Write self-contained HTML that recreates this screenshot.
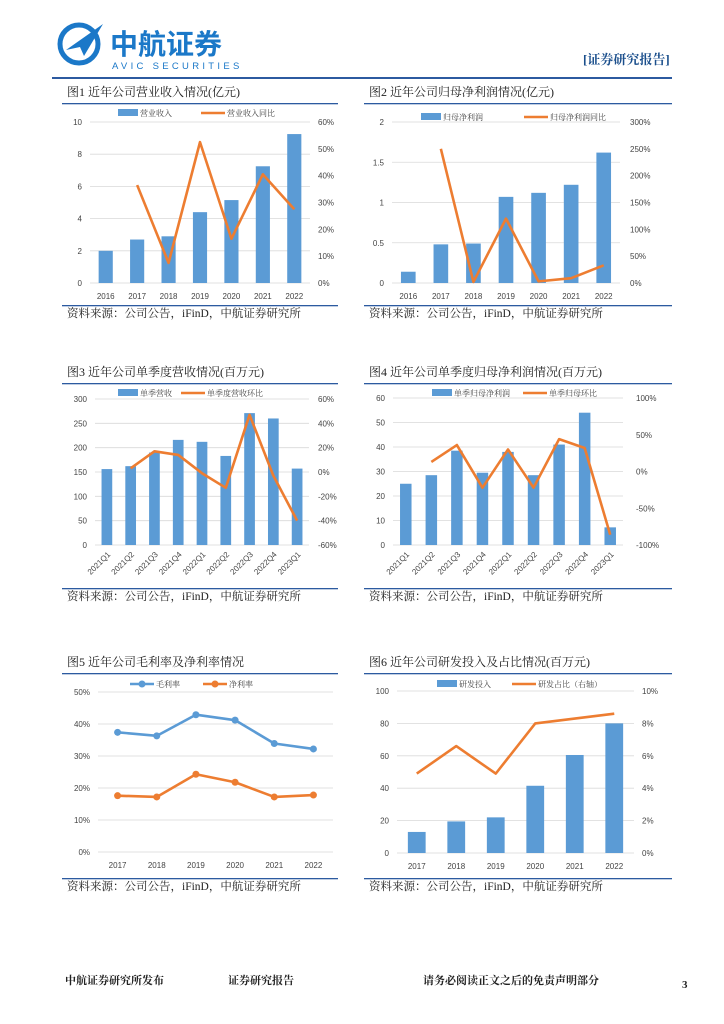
<!DOCTYPE html>
<html><head><meta charset="utf-8"><style>
body{margin:0;background:#fff;}
svg{display:block;font-family:"Liberation Sans","Noto Sans CJK SC",sans-serif;}
.cn{font-family:"Liberation Serif","Noto Serif CJK SC",serif;}
</style></head><body>
<svg id="pg" width="724" height="1024" viewBox="0 0 724 1024">
<g>
<circle cx="79" cy="44" r="19" fill="none" stroke="#1b78c8" stroke-width="5"/>
<path d="M66 50 L103 24 L84 56 L80 47 Z" fill="#1b78c8"/>
<text x="110" y="54" font-size="28" font-weight="bold" fill="#1b78c8" font-family="Noto Sans CJK SC,sans-serif">中航证券</text>
<text x="112" y="69" font-size="9.5" fill="#1b78c8" letter-spacing="3.3">AVIC SECURITIES</text>
<text x="583" y="64" font-size="13" font-weight="bold" fill="#1b4f8c" class="cn">[证券研究报告]</text>
<rect x="52" y="77" width="620" height="2" fill="#2c5aa0"/>
</g>
<g id="charts"></g>
<g class="cn" font-size="11" font-weight="bold" fill="#222">
<text x="65" y="984">中航证券研究所发布</text>
<text x="228" y="984">证券研究报告</text>
<text x="423" y="984">请务必阅读正文之后的免责声明部分</text>
<text x="682" y="988" font-family="Liberation Serif,serif">3</text>
</g>
</svg>
<script>
// Chart 1
const c1Cats=["2016","2017","2018","2019","2020","2021","2022"];
const c1Bars=[2.0,2.7,2.9,4.4,5.15,7.25,9.25];
const c1Line=[null,36.5,7.5,52.5,16.5,40.5,27.5];
const c1LeftTicks=[0,2,4,6,8,10];
const c1RightTicks=[0,10,20,30,40,50,60];
// Chart 2
const c2Cats=["2016","2017","2018","2019","2020","2021","2022"];
const c2Bars=[0.14,0.48,0.49,1.07,1.12,1.22,1.62];
const c2Line=[null,250,2,120,3,9,33];
const c2LeftTicks=[0,0.5,1,1.5,2];
const c2RightTicks=[0,50,100,150,200,250,300];
// Chart 3
const c3Cats=["2021Q1","2021Q2","2021Q3","2021Q4","2022Q1","2022Q2","2022Q3","2022Q4","2023Q1"];
const c3Bars=[156,162,190,216,212,183,271,260,157];
const c3Line=[null,3,17,14,-1,-13,47,-3,-40];
const c3LeftTicks=[0,50,100,150,200,250,300];
const c3RightTicks=[-60,-40,-20,0,20,40,60];
// Chart 4
const c4Cats=["2021Q1","2021Q2","2021Q3","2021Q4","2022Q1","2022Q2","2022Q3","2022Q4","2023Q1"];
const c4Bars=[25,28.5,38.5,29.5,38,28.5,41,54,7.2];
const c4Line=[null,13,36,-22,30,-22,44,32,-86];
const c4LeftTicks=[0,10,20,30,40,50,60];
const c4RightTicks=[-100,-50,0,50,100];
// Chart 5
const c5Cats=["2017","2018","2019","2020","2021","2022"];
const c5Gross=[37.4,36.3,42.9,41.2,33.9,32.2];
const c5Net=[17.6,17.2,24.3,21.8,17.2,17.8];
const c5Ticks=[0,10,20,30,40,50];
// Chart 6
const c6Cats=["2017","2018","2019","2020","2021","2022"];
const c6Bars=[13,19.5,22,41.5,60.5,80];
const c6Line=[4.9,6.6,4.9,8.0,8.3,8.6];
const c6LeftTicks=[0,20,40,60,80,100];
const c6RightTicks=[0,2,4,6,8,10];

const NS="http://www.w3.org/2000/svg";
const root=document.getElementById('charts');
function mk(tag,attrs,parent,txt){const e=document.createElementNS(NS,tag);for(const k in attrs)e.setAttribute(k,attrs[k]);if(txt!=null)e.textContent=txt;parent.appendChild(e);return e;}
const BLUE="#5b9bd5",ORANGE="#ed7d31";

function chart(o){
  const g=mk('g',{},root);
  
  
  const t=mk('text',{x:o.fx+5,y:o.ty,'font-size':12,fill:'#222',class:'cn'},g,o.title);
  
  
  const r1=mk('rect',{x:o.fx,y:o.ty+7,width:o.fw,height:1.3,fill:'#2c5aa0'},g);
  
  
  const r2=mk('rect',{x:o.fx,y:o.sy-12,width:o.fw,height:1.3,fill:'#2c5aa0'},g);
  
  
  const s=mk('text',{x:o.fx+5,y:o.sy,'font-size':11.5,fill:'#222',class:'cn'},g,'资料来源：公司公告，iFinD，中航证券研究所');
  
  
  const n=o.cats.length, bw=(o.x1-o.x0)/n;
  const xc=i=>o.x0+bw*(i+0.5);
  const yL=v=>o.yb-(v-o.lt[0])/(o.lt[o.lt.length-1]-o.lt[0])*(o.yb-o.yt);
  const yR=o.rt?(v=>o.yb-(v-o.rt[0])/(o.rt[o.rt.length-1]-o.rt[0])*(o.yb-o.yt)):yL;
  o.lt.forEach(v=>{const y=yL(v);
    const l=mk('line',{x1:o.x0,x2:o.x1,y1:y,y2:y,stroke:'#d9d9d9','stroke-width':0.8},g);
    
    
    const tx=mk('text',{x:o.x0-8,y:y+3,'font-size':8,'text-anchor':'end',fill:'#444'},g,o.lfmt?o.lfmt(v):v);
    
    });
  if(o.rt)o.rt.forEach(v=>{const tx=mk('text',{x:o.rx,y:yR(v)+3,'font-size':8,fill:'#444'},g,v+'%');
    
    });
  o.cats.forEach((c,i)=>{let tx;
    if(o.rot){tx=mk('text',{x:xc(i)+4,y:o.yb+10,'font-size':8,'text-anchor':'end',fill:'#444',transform:`rotate(-45 ${xc(i)+4} ${o.yb+10})`},g,c);}
    else tx=mk('text',{x:xc(i),y:o.yb+16,'font-size':8,'text-anchor':'middle',fill:'#444'},g,c);
    
    });
  if(o.bars)o.bars.forEach((v,i)=>{const w=bw*0.45;
    const b=mk('rect',{x:xc(i)-w/2,y:yL(v),width:w,height:yL(o.lt[0])-yL(v),fill:BLUE},g);
    
    });
  (o.lines||[]).forEach(L=>{const pts=[];L.vals.forEach((v,i)=>{if(v!=null)pts.push([xc(i),(L.left?yL:yR)(v)]);});
    const p=mk('polyline',{points:pts.map(p=>p.join(',')).join(' '),fill:'none',stroke:L.color,'stroke-width':2.6,'stroke-linejoin':'round'},g);
    
    
    if(L.markers)pts.forEach(q=>{const c=mk('circle',{cx:q[0],cy:q[1],r:3.5,fill:L.color},g);
      
      });});
  o.legend.forEach(L=>{let sw;
    if(L.type==='bar')sw=mk('rect',{x:L.x,y:o.ly-4,width:20,height:7,fill:BLUE},g);
    else sw=mk('line',{x1:L.x,x2:L.x+24,y1:o.ly,y2:o.ly,stroke:L.color,'stroke-width':2.6},g);
    
    
    if(L.marker){const c=mk('circle',{cx:L.x+12,cy:o.ly,r:3.5,fill:L.color},g);
      
      }
    const tx=mk('text',{x:L.x+(L.type==='bar'?22:26),y:o.ly+3,'font-size':8,fill:'#444',class:'cn'},g,L.label);
    
    });
}
chart({name:'chart-revenue',title:'图1  近年公司营业收入情况(亿元)',fx:62,fw:276,ty:96,sy:317,cats:c1Cats,bars:c1Bars,lt:c1LeftTicks,rt:c1RightTicks,x0:90,x1:310,yt:122,yb:283,rx:318,
  lines:[{vals:c1Line,color:ORANGE,name:'yoy-line'}],ly:113,legend:[{type:'bar',x:118,label:'营业收入'},{type:'line',x:201,color:ORANGE,label:'营业收入同比'}]});
chart({name:'chart-net-profit',title:'图2  近年公司归母净利润情况(亿元)',fx:364,fw:308,ty:96,sy:317,cats:c2Cats,bars:c2Bars,lt:c2LeftTicks,rt:c2RightTicks,x0:392,x1:620,yt:122,yb:283,rx:630,
  lines:[{vals:c2Line,color:ORANGE,name:'yoy-line'}],ly:117,legend:[{type:'bar',x:421,label:'归母净利润'},{type:'line',x:524,color:ORANGE,label:'归母净利润同比'}]});
chart({name:'chart-quarterly-revenue',title:'图3  近年公司单季度营收情况(百万元)',fx:62,fw:276,ty:376,sy:600,cats:c3Cats,bars:c3Bars,lt:c3LeftTicks,rt:c3RightTicks,x0:95,x1:309,yt:399,yb:545,rx:318,rot:true,
  lines:[{vals:c3Line,color:ORANGE,name:'yoy-line'}],ly:393,legend:[{type:'bar',x:118,label:'单季营收'},{type:'line',x:181,color:ORANGE,label:'单季度营收环比'}]});
chart({name:'chart-quarterly-profit',title:'图4  近年公司单季度归母净利润情况(百万元)',fx:364,fw:308,ty:376,sy:600,cats:c4Cats,bars:c4Bars,lt:c4LeftTicks,rt:c4RightTicks,x0:393,x1:623,yt:398,yb:545,rx:636,rot:true,
  lines:[{vals:c4Line,color:ORANGE,name:'yoy-line'}],ly:393,legend:[{type:'bar',x:432,label:'单季归母净利润'},{type:'line',x:523,color:ORANGE,label:'单季归母环比'}]});
chart({name:'chart-margins',title:'图5  近年公司毛利率及净利率情况',fx:62,fw:276,ty:666,sy:890,cats:c5Cats,lt:c5Ticks,lfmt:v=>v+'%',x0:98,x1:333,yt:692,yb:852,
  lines:[{vals:c5Gross,color:BLUE,name:'gross-margin-line',left:true,markers:true},{vals:c5Net,color:ORANGE,name:'net-margin-line',left:true,markers:true}],ly:684,
  legend:[{type:'line',x:130,color:BLUE,marker:true,label:'毛利率'},{type:'line',x:203,color:ORANGE,marker:true,label:'净利率'}]});
chart({name:'chart-rd',title:'图6  近年公司研发投入及占比情况(百万元)',fx:364,fw:308,ty:666,sy:890,cats:c6Cats,bars:c6Bars,lt:c6LeftTicks,rt:c6RightTicks,x0:397,x1:634,yt:691,yb:853,rx:642,
  lines:[{vals:c6Line,color:ORANGE,name:'rd-ratio-line'}],ly:684,legend:[{type:'bar',x:437,label:'研发投入'},{type:'line',x:512,color:ORANGE,label:'研发占比（右轴）'}]});
</script>
</body></html>
